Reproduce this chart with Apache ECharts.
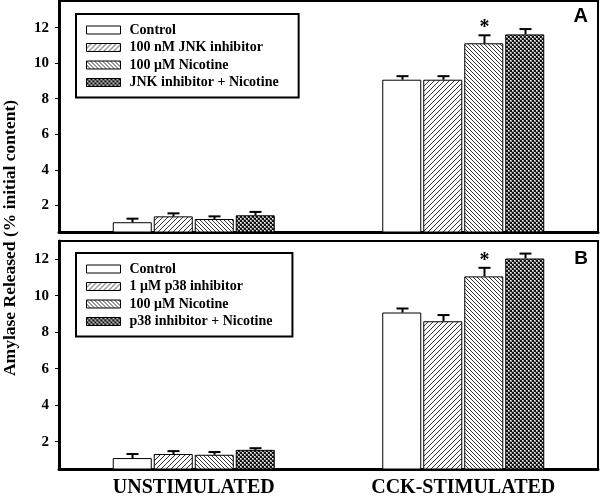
<!DOCTYPE html>
<html>
<head>
<meta charset="utf-8">
<script src="https://cdn.jsdelivr.net/npm/echarts@6/dist/echarts.min.js"></script>
<style>
  html, body { margin: 0; padding: 0; background: #fff; }
  #chart { width: 600px; height: 498px; }
</style>
</head>
<body>
<div id="chart"></div>
<script>
// categories and tick labels
var categories = ['UNSTIMULATED', 'CCK-STIMULATED'];
var tickValues = [2, 4, 6, 8, 10, 12];

// panel A (JNK)
var namesA = ['Control', '100 nM JNK inhibitor', '100 \u03bcM Nicotine', 'JNK inhibitor + Nicotine'];
var controlA = [1.05, 9.07];
var jnkA = [1.38, 9.07];
var nicotineA = [1.23, 11.12];
var jnkNicA = [1.44, 11.62];
var errControlA = [0.20, 0.20];
var errJnkA = [0.17, 0.20];
var errNicotineA = [0.15, 0.45];
var errJnkNicA = [0.19, 0.30];
var starA = [[0, 0, 0, 0], [0, 0, 1, 0]];

// panel B (p38)
var namesB = ['Control', '1 \u03bcM p38 inhibitor', '100 \u03bcM Nicotine', 'p38 inhibitor + Nicotine'];
var controlB = [1.10, 9.08];
var p38B = [1.32, 8.60];
var nicotineB = [1.28, 11.06];
var p38NicB = [1.55, 12.04];
var errControlB = [0.22, 0.22];
var errP38B = [0.16, 0.34];
var errNicotineB = [0.15, 0.47];
var errP38NicB = [0.09, 0.27];
var starB = [[0, 0, 0, 0], [0, 0, 1, 0]];

var SERIF = 'Liberation Serif, Times New Roman, serif';
var BAR_W = 39;
var BAR_GAP = 2;

// fill patterns
function hatch(step, back, color) {
  var c = document.createElement('canvas');
  c.width = step; c.height = step;
  var g = c.getContext('2d');
  g.fillStyle = '#fff';
  g.fillRect(0, 0, step, step);
  g.strokeStyle = color;
  g.lineWidth = 1;
  g.beginPath();
  if (!back) {
    g.moveTo(-1, step + 1); g.lineTo(step + 1, -1);
    g.moveTo(-1, 1); g.lineTo(1, -1);
    g.moveTo(step - 1, step + 1); g.lineTo(step + 1, step - 1);
  } else {
    g.moveTo(-1, -1); g.lineTo(step + 1, step + 1);
    g.moveTo(step - 1, -1); g.lineTo(step + 1, 1);
    g.moveTo(-1, step - 1); g.lineTo(1, step + 1);
  }
  g.stroke();
  return { image: c, repeat: 'repeat' };
}
function cross() {
  var c = document.createElement('canvas');
  c.width = 4; c.height = 4;
  var g = c.getContext('2d');
  g.fillStyle = '#9a9a9a';
  g.fillRect(0, 0, 4, 4);
  g.fillStyle = '#111';
  g.fillRect(0, 0, 2, 2);
  g.fillRect(2, 2, 2, 2);
  g.fillStyle = '#fff';
  g.fillRect(2, 0, 1, 1);
  g.fillRect(0, 2, 1, 1);
  return { image: c, repeat: 'repeat' };
}
var fills = ['#ffffff', hatch(5, false, '#333'), hatch(4, true, '#333'), cross()];

function barSeries(name, data, k, gi) {
  return {
    type: 'bar', name: name, data: data,
    xAxisIndex: gi, yAxisIndex: gi,
    barWidth: BAR_W, barGap: (BAR_GAP / BAR_W * 100) + '%', barCategoryGap: '40%',
    itemStyle: { color: fills[k], borderColor: '#000', borderWidth: 1 },
    emphasis: { disabled: true }
  };
}

function errSeries(means, errs, stars, gi) {
  var data = [];
  for (var k = 0; k < means.length; k++) {
    for (var c = 0; c < categories.length; c++) {
      data.push([c, means[k][c], errs[k][c], k, stars[c][k]]);
    }
  }
  return {
    type: 'custom', xAxisIndex: gi, yAxisIndex: gi, z: 10, silent: true,
    data: data,
    encode: { x: 0, y: 1 },
    renderItem: function (params, api) {
      var cat = api.value(0), mean = api.value(1), err = api.value(2), k = api.value(3), star = api.value(4);
      var total = 4 * BAR_W + 3 * BAR_GAP;
      var off = -total / 2 + k * (BAR_W + BAR_GAP) + BAR_W / 2;
      var b = api.coord([cat, mean]);
      var t = api.coord([cat, mean + err]);
      var x = Math.round(b[0] + off) + 0.5;
      var ch = [
        { type: 'line', shape: { x1: x, y1: b[1], x2: x, y2: t[1] }, style: { stroke: '#000', lineWidth: 2 } },
        { type: 'line', shape: { x1: x - 6, y1: t[1], x2: x + 6, y2: t[1] }, style: { stroke: '#000', lineWidth: 2 } }
      ];
      if (star) {
        ch.push({ type: 'text', x: x, y: t[1] - 7, style: {
          text: '*', font: 'bold 20px ' + SERIF, fill: '#000', align: 'center', verticalAlign: 'middle' } });
      }
      return { type: 'group', children: ch };
    }
  };
}

function legend(names, top) {
  return {
    orient: 'vertical', left: 76, top: top,
    data: names,
    icon: 'rect', itemWidth: 34, itemHeight: 8, itemGap: 3.5,
    borderColor: '#000', borderWidth: 2, padding: [9, 20, 8, 10],
    selectedMode: false,
    itemStyle: { borderColor: '#000', borderWidth: 1 },
    textStyle: { fontFamily: SERIF, fontWeight: 'bold', fontSize: 14, color: '#000', lineHeight: 13, padding: [0, 0, 0, 4] }
  };
}

function yAxis(gi, max) {
  return {
    type: 'value', gridIndex: gi, min: 0.5, max: max,
    axisLine: { show: true, lineStyle: { color: '#000', width: 3 } },
    axisTick: { show: true, length: 4, customValues: tickValues, lineStyle: { color: '#000', width: 1 } },
    axisLabel: { customValues: tickValues, fontFamily: SERIF, fontWeight: 'bold', fontSize: 15, color: '#000', margin: 10 },
    splitLine: { show: false }
  };
}

function xAxis(gi, showLabel) {
  return {
    type: 'category', gridIndex: gi, data: categories,
    axisLine: { show: true, lineStyle: { color: '#000', width: 3 } },
    axisTick: { show: false },
    axisLabel: { show: showLabel, fontFamily: SERIF, fontWeight: 'bold', fontSize: 20, color: '#000', margin: 9 }
  };
}

var chart = echarts.init(document.getElementById('chart'));
chart.setOption({
  animation: false,
  backgroundColor: '#fff',
  grid: [
    { left: 59, right: 2, top: 1, height: 231, show: true, borderColor: '#000', borderWidth: 2, backgroundColor: 'transparent' },
    { left: 59, right: 2, top: 241, height: 231, show: true, borderColor: '#000', borderWidth: 2, backgroundColor: 'transparent' }
  ],
  xAxis: [xAxis(0, false), xAxis(1, true)],
  yAxis: [yAxis(0, 13.5), yAxis(1, 13)],
  legend: [legend(namesA, 14), legend(namesB, 253)],
  graphic: [
    { type: 'text', x: 10, y: 238, rotation: Math.PI / 2, style: {
      text: 'Amylase Released (% initial content)', font: 'bold 17.5px ' + SERIF, fill: '#000', align: 'center', verticalAlign: 'middle' } },
    { type: 'text', right: 12, top: 6, style: { text: 'A', font: 'bold 20px Liberation Sans, Arial, sans-serif', fill: '#000' } },
    { type: 'text', right: 12, top: 249, style: { text: 'B', font: 'bold 19px Liberation Sans, Arial, sans-serif', fill: '#000' } }
  ],
  series: [
    barSeries(namesA[0], controlA, 0, 0),
    barSeries(namesA[1], jnkA, 1, 0),
    barSeries(namesA[2], nicotineA, 2, 0),
    barSeries(namesA[3], jnkNicA, 3, 0),
    errSeries([controlA, jnkA, nicotineA, jnkNicA], [errControlA, errJnkA, errNicotineA, errJnkNicA], starA, 0),
    barSeries(namesB[0], controlB, 0, 1),
    barSeries(namesB[1], p38B, 1, 1),
    barSeries(namesB[2], nicotineB, 2, 1),
    barSeries(namesB[3], p38NicB, 3, 1),
    errSeries([controlB, p38B, nicotineB, p38NicB], [errControlB, errP38B, errNicotineB, errP38NicB], starB, 1)
  ]
});
</script>
</body>
</html>
